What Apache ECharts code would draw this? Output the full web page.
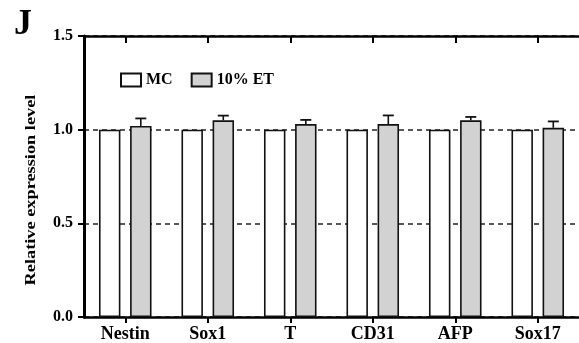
<!DOCTYPE html>
<html>
<head>
<meta charset="utf-8">
<script src="https://cdn.jsdelivr.net/npm/echarts@6/dist/echarts.min.js"></script>
<style>
html,body{margin:0;padding:0;background:#fff;}
#chart{width:579px;height:343px;}
</style>
</head>
<body>
<div id="chart"></div>
<script>
// ---- data ----
var categories = ['Nestin', 'Sox1', 'T', 'CD31', 'AFP', 'Sox17'];
var seriesNames = ['MC', '10% ET'];
var mcValues = [1.0, 1.0, 1.0, 1.0, 1.0, 1.0];
var etValues = [1.02, 1.05, 1.03, 1.03, 1.05, 1.01];
var etErrors = [0.04, 0.025, 0.022, 0.046, 0.018, 0.034];
var yTicks = [0.0, 0.5, 1.0, 1.5];
var yTitle = 'Relative expression level';
var panelLetter = 'J';

var FONT = '"Liberation Serif", "DejaVu Serif", serif';
var BAR_FRAC = 0.26;   // bar width fraction of the category band
var GAP_FRAC = 0.45;   // gap between bars relative to bar width

var chart = echarts.init(document.getElementById('chart'), null, {renderer: 'canvas'});

var errData = etValues.map(function (v, i) { return [i, v, etErrors[i]]; });

var option = {
  backgroundColor: '#fff',
  animation: false,
  legend: {
    left: 120, top: 72, padding: 0,
    itemWidth: 20, itemHeight: 13, itemGap: 18,
    icon: 'rect',
    data: seriesNames,
    textStyle: {fontFamily: FONT, fontWeight: 'bold', fontSize: 16, color: '#000'}
  },
  grid: {left: 84, top: 36, width: 505, bottom: 25, containLabel: false},
  xAxis: [{
    type: 'category',
    data: categories,
    position: 'bottom',
    axisLine: {lineStyle: {color: '#000', width: 2.5}},
    axisTick: {show: true, alignWithLabel: true, length: 6, lineStyle: {color: '#000', width: 2}},
    axisLabel: {fontFamily: FONT, fontWeight: 'bold', fontSize: 18, color: '#000', margin: 8},
    splitLine: {show: false}
  }, {
    type: 'category',
    data: categories,
    position: 'top',
    axisLine: {show: true, lineStyle: {color: '#000', width: 2.5}},
    axisTick: {show: true, alignWithLabel: true, inside: true, length: 7, lineStyle: {color: '#000', width: 2}},
    axisLabel: {show: false},
    splitLine: {show: false}
  }],
  yAxis: {
    type: 'value',
    min: yTicks[0], max: yTicks[yTicks.length - 1], interval: 0.5,
    axisLine: {show: true, lineStyle: {color: '#000', width: 3}},
    axisTick: {show: true, length: 6, lineStyle: {color: '#000', width: 2}},
    axisLabel: {
      fontFamily: FONT, fontWeight: 'bold', fontSize: 16, color: '#000', margin: 11,
      formatter: function (v) { return v.toFixed(1); }
    },
    splitLine: {show: true, lineStyle: {color: '#222', width: 1.5, type: [5, 4]}}
  },
  graphic: [{
    type: 'text',
    left: 14, top: 7,
    style: {text: panelLetter, font: 'bold 36px ' + FONT, fill: '#000'}
  }, {
    type: 'text',
    x: 31, y: 190,
    rotation: Math.PI / 2,
    scaleX: 1.22,
    style: {
      text: yTitle, font: 'bold 15px ' + FONT, fill: '#000',
      align: 'center', verticalAlign: 'middle'
    }
  }],
  series: [{
    name: seriesNames[0],
    type: 'bar',
    data: mcValues,
    barWidth: (BAR_FRAC * 100) + '%',
    barGap: (GAP_FRAC * 100) + '%',
    itemStyle: {color: '#ffffff', borderColor: '#111', borderWidth: 1.6},
    z: 3
  }, {
    name: seriesNames[1],
    type: 'bar',
    data: etValues,
    barWidth: (BAR_FRAC * 100) + '%',
    barGap: (GAP_FRAC * 100) + '%',
    itemStyle: {color: '#d2d2d2', borderColor: '#111', borderWidth: 1.6},
    z: 3
  }, {
    name: 'err',
    type: 'custom',
    data: errData,
    z: 2,
    silent: true,
    renderItem: function (params, api) {
      var idx = api.value(0), v = api.value(1), e = api.value(2);
      var band = api.size([1, 0])[0];
      var off = band * BAR_FRAC * (1 + GAP_FRAC) / 2;
      var p0 = api.coord([idx, v]);
      var p1 = api.coord([idx, v + e]);
      var x = p0[0] + off;
      var capHalf = 5.5;
      return {
        type: 'group',
        children: [{
          type: 'line',
          shape: {x1: x, y1: p0[1], x2: x, y2: p1[1]},
          style: {stroke: '#111', lineWidth: 1.6}
        }, {
          type: 'line',
          shape: {x1: x - capHalf, y1: p1[1], x2: x + capHalf, y2: p1[1]},
          style: {stroke: '#111', lineWidth: 1.8}
        }]
      };
    }
  }]
};
chart.setOption(option);
</script>
</body>
</html>
